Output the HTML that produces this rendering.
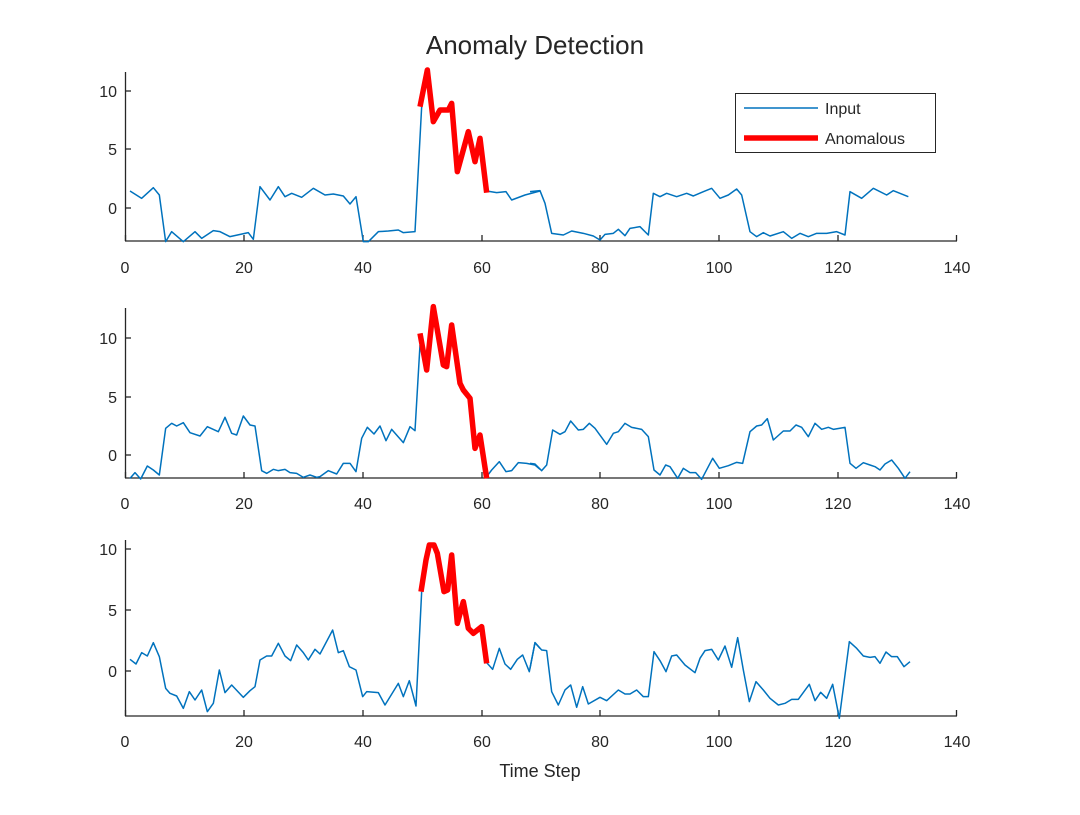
<!DOCTYPE html>
<html><head><meta charset="utf-8"><style>
body{margin:0;background:#fff}
svg text{font-family:"Liberation Sans",Arial,sans-serif;fill:#262626}
</style></head><body>
<svg width="1080" height="810" xmlns="http://www.w3.org/2000/svg">
<rect width="1080" height="810" fill="#fff"/>
<text x="535" y="54" font-size="26" text-anchor="middle">Anomaly Detection</text>
<defs>
<g id="xt" stroke="#262626" stroke-width="1.3">
<line x1="125" y1="0" x2="957" y2="0"/>
<line x1="125.5" y1="0" x2="125.5" y2="-6"/><line x1="244" y1="0" x2="244" y2="-6"/><line x1="363" y1="0" x2="363" y2="-6"/><line x1="482" y1="0" x2="482" y2="-6"/><line x1="600" y1="0" x2="600" y2="-6"/><line x1="719" y1="0" x2="719" y2="-6"/><line x1="838" y1="0" x2="838" y2="-6"/><line x1="956.5" y1="0" x2="956.5" y2="-6"/>
</g>
<g id="xl" font-size="16" text-anchor="middle">
<text x="125" y="0">0</text><text x="244" y="0">20</text><text x="363" y="0">40</text><text x="482" y="0">60</text><text x="600" y="0">80</text><text x="719" y="0">100</text><text x="838" y="0">120</text><text x="957" y="0">140</text>
</g>
</defs>
<!-- subplot 1 -->
<use href="#xt" y="241"/><use href="#xl" y="273"/>
<g stroke="#262626" stroke-width="1.3"><line x1="125.5" y1="72" x2="125.5" y2="241"/><line x1="125" y1="91" x2="131" y2="91"/><line x1="125" y1="149" x2="131" y2="149"/><line x1="125" y1="208" x2="131" y2="208"/></g>
<g font-size="16" text-anchor="end"><text x="117" y="97">10</text><text x="117" y="155">5</text><text x="117" y="214">0</text></g>
<g transform="translate(120,60) scale(0.33333)" fill="none" stroke-linejoin="round">
<polyline vector-effect="non-scaling-stroke" stroke="#0072BD" stroke-width="1.5" points="30,393 65,415 100,383 118,405 137,545 155,515 190,545 225,515 245,535 280,512 300,515 330,530 385,518 400,538 420,380 450,420 475,380 495,410 515,400 545,412 580,385 615,405 640,402 670,408 690,432 708,410 730,545 745,545 775,515 805,513 835,510 850,518 885,515 905,140"/>
<polyline vector-effect="non-scaling-stroke" stroke="#0072BD" stroke-width="1.5" points="1100,393 1130,398 1158,395 1175,420 1215,405 1260,393"/>
<polyline vector-effect="non-scaling-stroke" stroke="#f00" stroke-width="5.5" points="900,140 922,30 940,185 960,150 985,150 995,130 1012,335 1045,215 1065,305 1080,235 1100,398"/>
</g>
<g transform="translate(530,60) scale(0.33333)" fill="none" stroke-linejoin="round">
<polyline vector-effect="non-scaling-stroke" stroke="#0072BD" stroke-width="1.5" points="0,395 30,392 45,430 65,520 100,525 125,513 160,520 190,528 210,540 225,523 250,520 265,508 285,527 300,505 330,500 355,525 370,400 390,410 410,400 440,410 470,400 490,408 520,395 545,385 570,415 595,405 620,387 635,405 660,515 680,530 700,518 720,528 760,515 785,535 810,520 835,530 860,520 890,520 920,515 945,525 960,395 995,415 1030,385 1070,405 1090,392 1135,410"/>
</g>
<rect x="735.5" y="93.5" width="200" height="59" fill="#fff" stroke="#262626" stroke-width="1"/>
<line x1="744" y1="108" x2="818" y2="108" stroke="#0072BD" stroke-width="1.5"/>
<line x1="744" y1="138" x2="818" y2="138" stroke="#f00" stroke-width="5.5"/>
<g font-size="16"><text x="825" y="114">Input</text><text x="825" y="144">Anomalous</text></g>

<!-- subplot 2 -->
<use href="#xt" y="478"/><use href="#xl" y="509"/>
<g stroke="#262626" stroke-width="1.3"><line x1="125.5" y1="308" x2="125.5" y2="478"/><line x1="125" y1="338" x2="131" y2="338"/><line x1="125" y1="397" x2="131" y2="397"/><line x1="125" y1="455" x2="131" y2="455"/></g>
<g font-size="16" text-anchor="end"><text x="117" y="344">10</text><text x="117" y="403">5</text><text x="117" y="461">0</text></g>
<g transform="translate(120,300) scale(0.33333)" fill="none" stroke-linejoin="round">
<polyline vector-effect="non-scaling-stroke" stroke="#0072BD" stroke-width="1.5" points="30,535 45,518 62,537 82,498 100,510 118,525 137,385 155,370 170,378 190,368 210,398 240,408 262,380 295,395 315,352 335,400 350,405 370,348 390,375 405,378 425,512 440,520 460,508 475,512 495,508 510,518 530,520 550,532 570,525 590,532 600,530 625,512 650,522 670,490 690,490 708,515 725,415 742,382 762,402 780,378 798,422 815,388 850,428 870,380 885,392 900,135"/>
<polyline vector-effect="non-scaling-stroke" stroke="#0072BD" stroke-width="1.5" points="1100,530 1115,510 1138,485 1158,515 1175,512 1195,488 1220,490 1245,495 1260,508"/>
<polyline vector-effect="non-scaling-stroke" stroke="#f00" stroke-width="5.5" points="900,100 920,210 940,20 970,195 980,200 995,75 1020,250 1030,270 1050,295 1065,445 1080,405 1100,535"/>
</g>
<g transform="translate(530,300) scale(0.33333)" fill="none" stroke-linejoin="round">
<polyline vector-effect="non-scaling-stroke" stroke="#0072BD" stroke-width="1.5" points="0,490 15,492 35,512 50,495 68,390 90,403 105,395 122,363 145,390 160,388 178,370 195,385 230,433 250,400 265,395 285,370 305,382 335,388 355,410 372,510 390,525 407,495 420,500 443,535 460,505 480,518 497,518 515,538 548,475 568,505 595,497 620,487 638,490 660,395 680,378 695,375 712,356 730,420 760,393 780,393 798,375 815,382 835,410 855,370 875,388 895,382 910,388 945,382 960,490 978,505 1000,488 1020,495 1035,500 1050,510 1065,492 1085,480 1105,505 1125,535 1140,515"/>
</g>

<!-- subplot 3 -->
<use href="#xt" y="716"/><use href="#xl" y="747"/>
<g stroke="#262626" stroke-width="1.3"><line x1="125.5" y1="540" x2="125.5" y2="716"/><line x1="125" y1="549" x2="131" y2="549"/><line x1="125" y1="610" x2="131" y2="610"/><line x1="125" y1="671" x2="131" y2="671"/></g>
<g font-size="16" text-anchor="end"><text x="117" y="555">10</text><text x="117" y="616">5</text><text x="117" y="677">0</text></g>
<g transform="translate(120,530) scale(0.33333)" fill="none" stroke-linejoin="round">
<polyline vector-effect="non-scaling-stroke" stroke="#0072BD" stroke-width="1.5" points="30,388 48,402 65,368 82,378 100,338 118,380 137,475 150,490 170,498 190,535 208,485 225,510 245,480 262,545 280,520 298,420 315,488 335,465 370,502 390,482 405,470 420,390 440,378 455,378 475,340 495,378 512,392 530,345 550,368 565,390 585,358 600,372 638,300 655,368 670,362 688,410 708,420 728,500 740,485 775,488 795,525 835,460 850,500 868,452 888,528 905,185"/>
<polyline vector-effect="non-scaling-stroke" stroke="#0072BD" stroke-width="1.5" points="1100,398 1118,418 1138,355 1155,402 1172,418 1192,388 1208,375 1228,425 1245,338 1260,355"/>
<polyline vector-effect="non-scaling-stroke" stroke="#f00" stroke-width="5.5" points="903,185 918,90 928,45 942,45 952,70 972,185 983,180 995,75 1012,280 1030,215 1045,295 1060,310 1085,290 1100,400"/>
</g>
<g transform="translate(530,530) scale(0.33333)" fill="none" stroke-linejoin="round">
<polyline vector-effect="non-scaling-stroke" stroke="#0072BD" stroke-width="1.5" points="0,415 15,338 35,360 50,362 65,485 85,525 105,480 122,465 140,532 158,470 175,522 210,502 230,512 265,480 285,492 300,492 320,480 340,500 355,500 372,365 390,392 408,425 425,378 440,375 465,405 495,428 510,385 525,362 545,358 565,390 585,348 605,412 623,323 640,420 658,515 678,455 700,480 720,505 745,525 765,520 785,508 805,508 838,463 855,512 872,487 890,505 908,463 928,565 958,335 980,355 1000,378 1020,382 1035,380 1050,400 1068,366 1085,380 1102,380 1122,410 1140,395"/>
</g>
<text x="540" y="777" font-size="18" text-anchor="middle">Time Step</text>
</svg>
</body></html>
